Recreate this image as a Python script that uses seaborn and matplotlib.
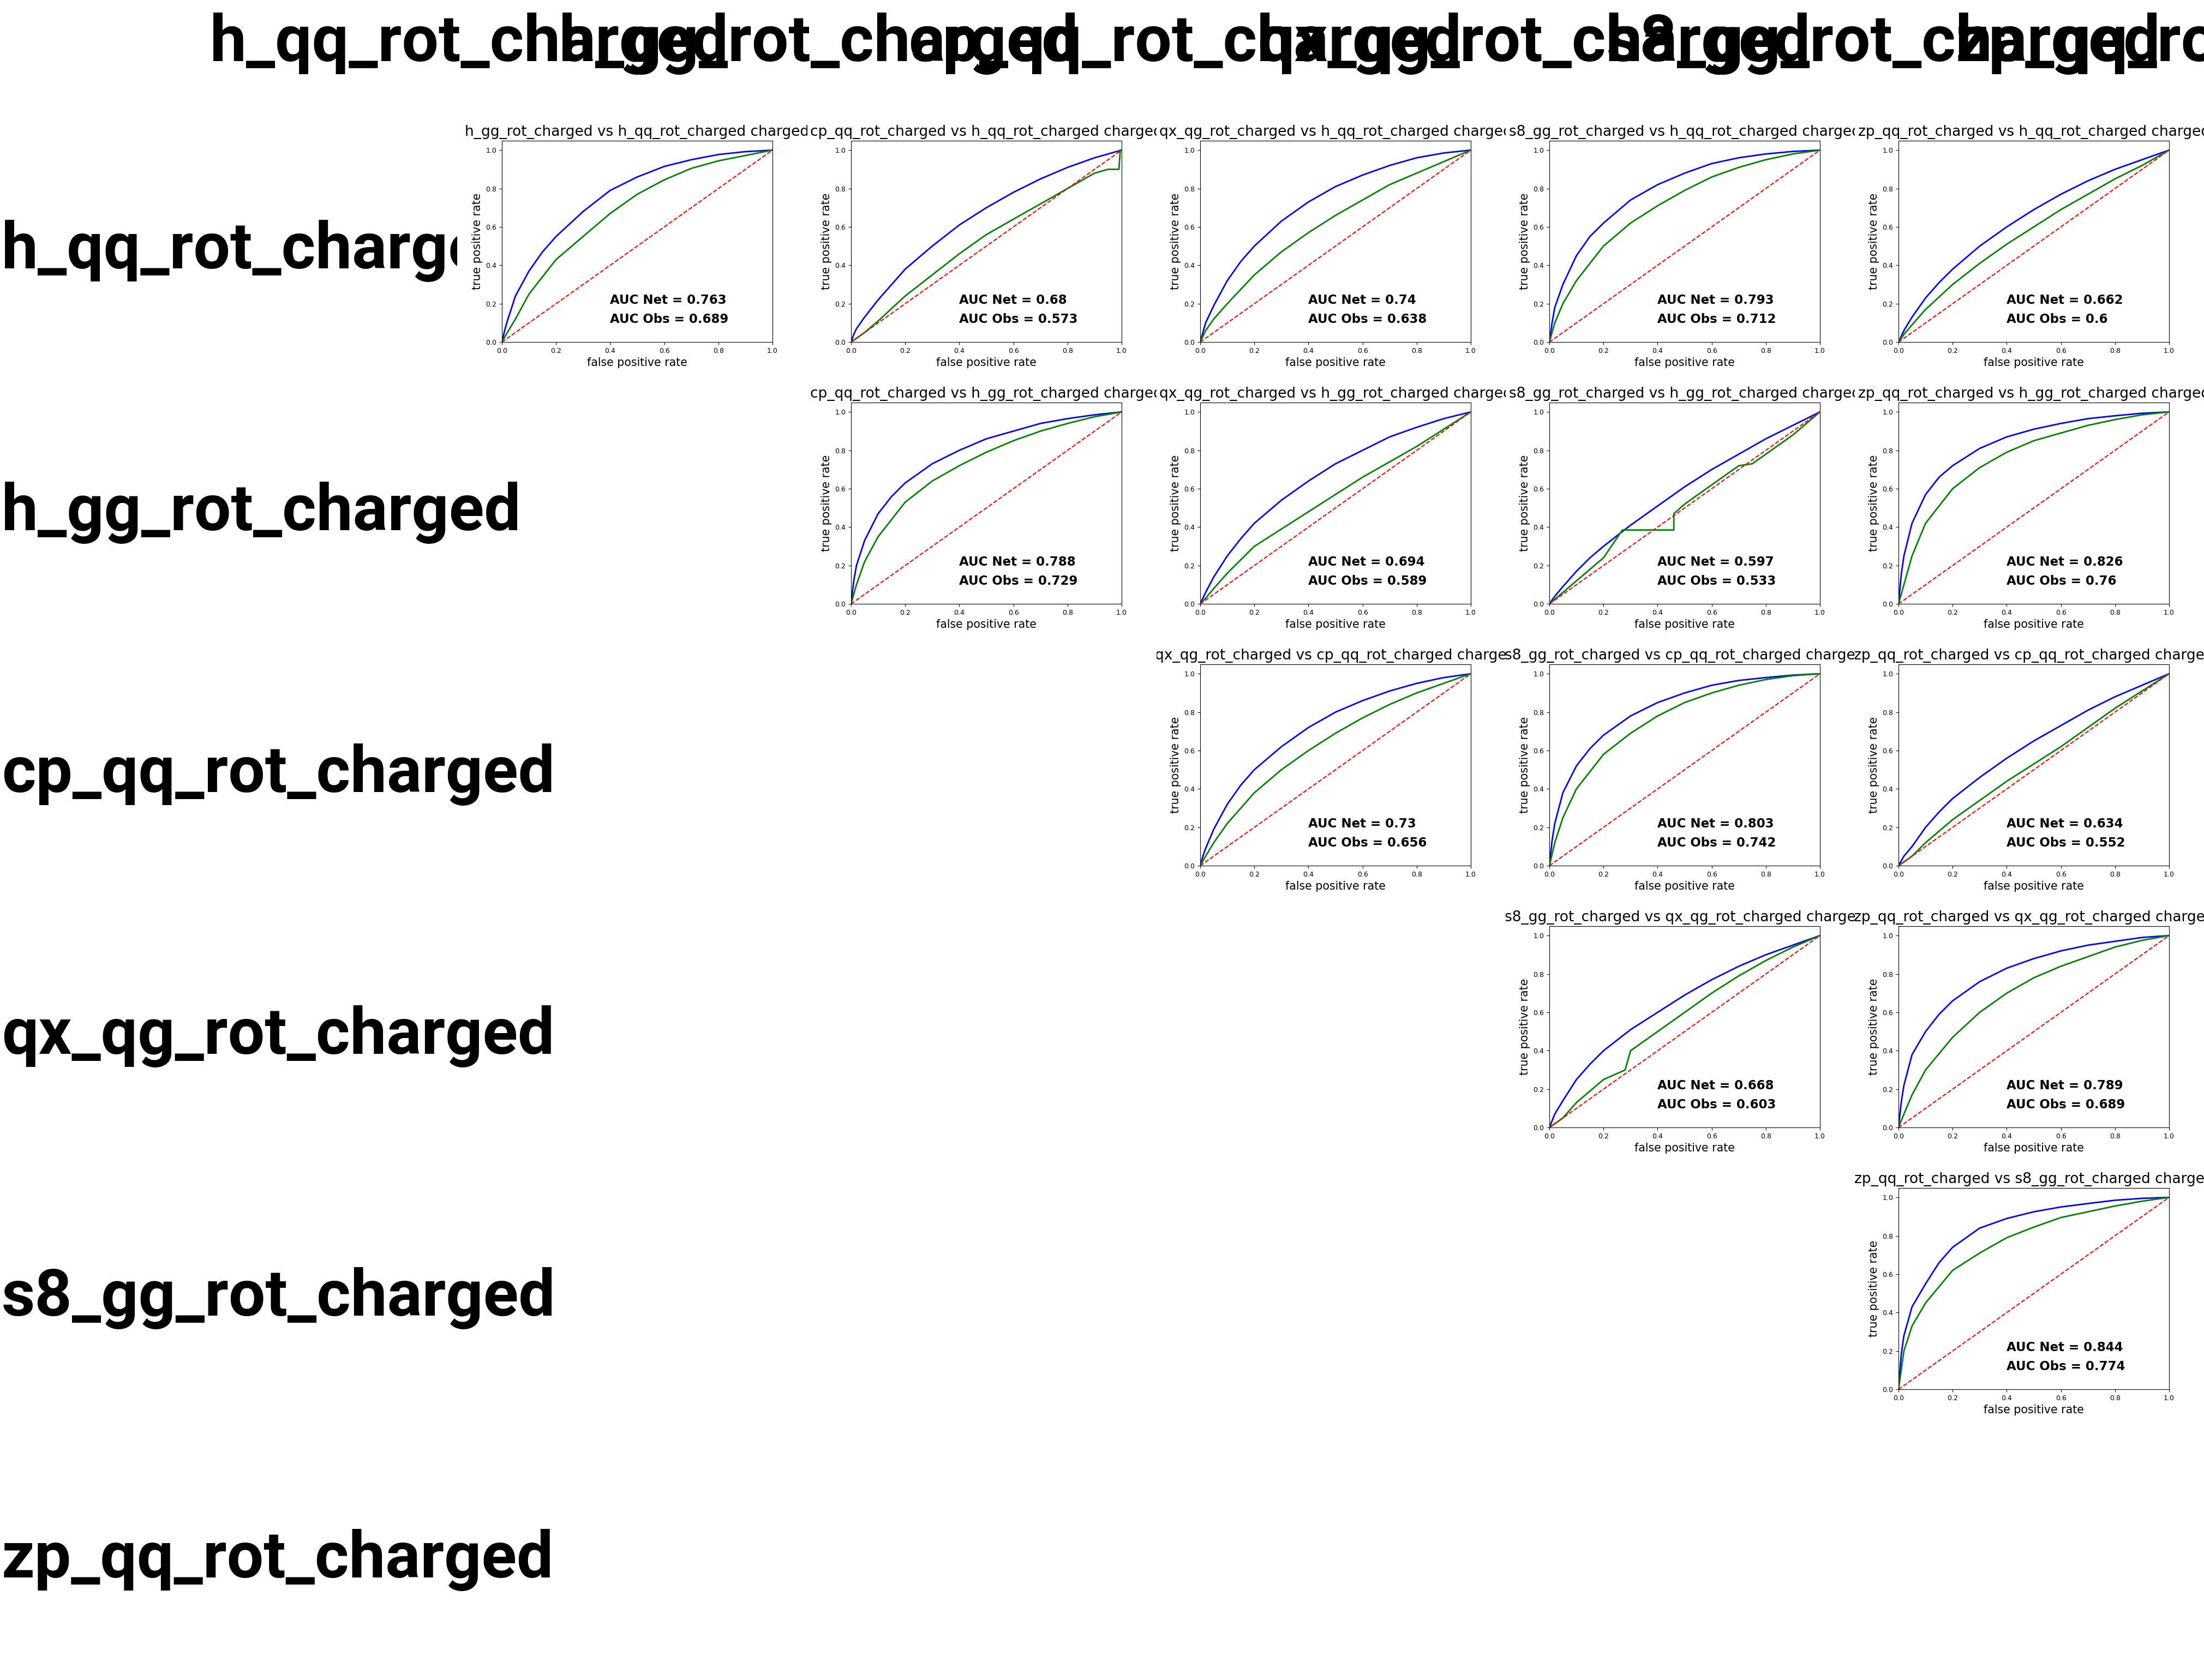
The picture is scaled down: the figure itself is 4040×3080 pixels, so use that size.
import matplotlib
matplotlib.use("Agg")
import matplotlib.pyplot as plt
import seaborn as sns
import pandas as pd
from matplotlib.transforms import Bbox, TransformedBbox

# ---------------- data ----------------
classes = ["h_qq_rot_charged", "h_gg_rot_charged", "cp_qq_rot_charged",
           "qx_qg_rot_charged", "s8_gg_rot_charged", "zp_qq_rot_charged"]

pair_rows = [0, 0, 0, 0, 0, 1, 1, 1, 1, 2, 2, 2, 3, 3, 4]
pair_cols = [1, 2, 3, 4, 5, 2, 3, 4, 5, 3, 4, 5, 4, 5, 5]
auc_net = ["0.763", "0.68", "0.74", "0.793", "0.662", "0.788", "0.694", "0.597",
           "0.826", "0.73", "0.803", "0.634", "0.668", "0.789", "0.844"]
auc_obs = ["0.689", "0.573", "0.638", "0.712", "0.6", "0.729", "0.589", "0.533",
           "0.76", "0.656", "0.742", "0.552", "0.603", "0.689", "0.774"]

# false positive rates at which the network curves were read
net_fpr = [0, .01, .02, .05, .1, .15, .2, .3, .4, .5, .6, .7, .8, .9, 1]
# false positive rates at which most observable curves were read
obs_fpr = [0, .02, .05, .1, .2, .3, .4, .5, .6, .7, .8, .9, 1]

net_01 = [0, .06, .11, .24, .37, .47, .55, .68, .79, .86, .915, .95, .977, .992, 1]
obs_01 = [0, .05, .12, .25, .43, .55, .67, .77, .845, .905, .944, .972, 1]
net_02 = [0, .04, .07, .13, .22, .30, .38, .50, .61, .70, .78, .85, .91, .96, 1]
obs_02_x = [0, .05, .1, .2, .3, .4, .5, .6, .7, .8, .9, .95, .99, .995, 1]
obs_02 = [0, .05, .11, .24, .35, .46, .56, .64, .72, .8, .88, .9, .9, 1, 1]
net_03 = [0, .05, .1, .19, .32, .42, .5, .63, .73, .81, .87, .92, .96, .985, 1]
obs_03 = [0, .06, .12, .2, .35, .47, .57, .66, .74, .82, .88, .94, 1]
net_04 = [0, .1, .18, .3, .45, .55, .62, .74, .82, .88, .93, .96, .98, .993, 1]
obs_04 = [0, .1, .2, .32, .5, .62, .71, .79, .86, .91, .95, .98, 1]
net_05 = [0, .03, .06, .13, .23, .31, .38, .5, .6, .69, .77, .84, .9, .95, 1]
obs_05 = [0, .04, .09, .17, .3, .41, .51, .6, .69, .77, .85, .92, 1]
net_12 = [0, .12, .2, .33, .47, .56, .63, .73, .8, .86, .9, .94, .965, .985, 1]
obs_12 = [0, .1, .22, .35, .53, .64, .72, .79, .85, .9, .94, .975, 1]
net_13 = [0, .03, .06, .14, .25, .34, .42, .54, .64, .73, .8, .87, .92, .965, 1]
obs_13 = [0, .03, .08, .16, .3, .39, .48, .57, .66, .74, .82, .91, 1]
net_14 = [0, .02, .04, .09, .17, .24, .3, .41, .51, .61, .7, .78, .86, .93, 1]
obs_14_x = [0, .1, .2, .27, .46, .46, .5, .6, .7, .75, .8, .9, 1]
obs_14 = [0, .12, .24, .385, .385, .47, .52, .62, .72, .73, .78, .88, 1]
net_15 = [0, .15, .25, .42, .57, .66, .72, .81, .87, .91, .94, .965, .98, .993, 1]
obs_15 = [0, .1, .25, .42, .6, .71, .79, .85, .89, .93, .96, .985, 1]
net_23 = [0, .05, .09, .19, .32, .42, .5, .62, .72, .8, .86, .91, .95, .98, 1]
obs_23 = [0, .05, .12, .22, .38, .5, .6, .69, .77, .84, .9, .95, 1]
net_24 = [0, .13, .22, .38, .52, .61, .68, .78, .85, .9, .94, .965, .98, .993, 1]
obs_24 = [0, .12, .25, .4, .58, .69, .78, .85, .9, .94, .97, .99, 1]
net_25 = [0, .025, .05, .1, .2, .28, .35, .46, .56, .65, .73, .81, .88, .94, 1]
obs_25 = [0, .02, .05, .12, .24, .34, .44, .53, .62, .72, .82, .91, 1]
net_34 = [0, .035, .07, .14, .25, .33, .4, .51, .6, .69, .77, .84, .9, .95, 1]
obs_34_x = [0, .02, .05, .1, .2, .28, .3, .4, .5, .6, .7, .8, .9, 1]
obs_34 = [0, .02, .05, .13, .25, .3, .4, .5, .6, .7, .79, .87, .94, 1]
net_35 = [0, .13, .22, .38, .5, .59, .66, .76, .83, .88, .92, .95, .97, .99, 1]
obs_35 = [0, .07, .17, .3, .47, .6, .7, .78, .84, .89, .94, .975, 1]
net_45 = [0, .18, .28, .43, .55, .66, .74, .84, .89, .925, .95, .968, .985, .995, 1]
obs_45 = [0, .2, .33, .45, .62, .71, .79, .845, .895, .925, .955, .98, 1]

net_curves = [net_01, net_02, net_03, net_04, net_05, net_12, net_13, net_14,
              net_15, net_23, net_24, net_25, net_34, net_35, net_45]
obs_curves = [(obs_fpr, obs_01), (obs_02_x, obs_02), (obs_fpr, obs_03),
              (obs_fpr, obs_04), (obs_fpr, obs_05), (obs_fpr, obs_12),
              (obs_fpr, obs_13), (obs_14_x, obs_14), (obs_fpr, obs_15),
              (obs_fpr, obs_23), (obs_fpr, obs_24), (obs_fpr, obs_25),
              (obs_34_x, obs_34), (obs_fpr, obs_35), (obs_fpr, obs_45)]

# ---------------- layout ----------------
W, H = 4040, 3080
MARGIN = 200
CW, CH = 640, 480
AX_L, AX_T, AX_W, AX_H = 80, 57.6, 496, 369.6

plt.rcParams["font.family"] = ["DejaVu Sans"]
fig = plt.figure(figsize=(W / 100, H / 100), dpi=100)
fig.patch.set_facecolor("white")


def fig_bbox(x0, y0, x1, y1):
    """pixel box (top-left origin) -> figure-transformed bbox"""
    return TransformedBbox(Bbox([[x0 / W, 1 - y1 / H], [x1 / W, 1 - y0 / H]]),
                           fig.transFigure)


for k in range(len(pair_rows)):
    r, c = pair_rows[k], pair_cols[k]
    cx, cy = MARGIN + CW * c, MARGIN + CH * r
    ax = fig.add_axes([(cx + AX_L) / W, 1 - (cy + AX_T + AX_H) / H, AX_W / W, AX_H / H])
    ox, oy = obs_curves[k]
    sns.lineplot(x=net_fpr, y=net_curves[k], ax=ax, color="blue", linewidth=2,
                 estimator=None, sort=False)
    sns.lineplot(x=ox, y=oy, ax=ax, color="green", linewidth=2,
                 estimator=None, sort=False)
    sns.lineplot(x=[0, 1], y=[0, 1], ax=ax, color="red", linewidth=1.5,
                 linestyle="--", estimator=None, sort=False)
    ax.set_xlim(0, 1)
    ax.set_ylim(0, 1.05)
    ax.set_xticks([0, .2, .4, .6, .8, 1.0])
    ax.set_yticks([0, .2, .4, .6, .8, 1.0])
    ax.tick_params(labelsize=9)
    ax.set_xlabel("false positive rate", fontsize=14.8)
    ax.set_ylabel("true positive rate", fontsize=14.8)
    t = ax.set_title(f"{classes[c]} vs {classes[r]} charged", fontsize=19)
    t.set_clip_box(fig_bbox(cx, cy, cx + CW, cy + CH))
    t.set_clip_on(True)
    ax.text(0.4, 0.2, f"AUC Net = {auc_net[k]}", fontsize=16.5, fontweight="bold")
    ax.text(0.4, 0.1, f"AUC Obs = {auc_obs[k]}", fontsize=16.5, fontweight="bold")

# row labels
for r, name in enumerate(classes):
    t = fig.text(3 / W, 1 - (460 + CH * r) / H, name, ha="left", va="center",
                 fontsize=86, fontweight="bold", family=["Roboto", "DejaVu Sans"])
    t.set_clip_box(fig_bbox(0, 0, MARGIN + CW * (r + 1) - 2, H))
    t.set_clip_on(True)

# column headers
for c, name in enumerate(classes):
    fig.text((385 + CW * c) / W, 1 - 80 / H, name, ha="left", va="center",
             fontsize=86, fontweight="bold", family=["Roboto", "DejaVu Sans"])

fig.savefig("out.png", dpi=100, facecolor="white")
